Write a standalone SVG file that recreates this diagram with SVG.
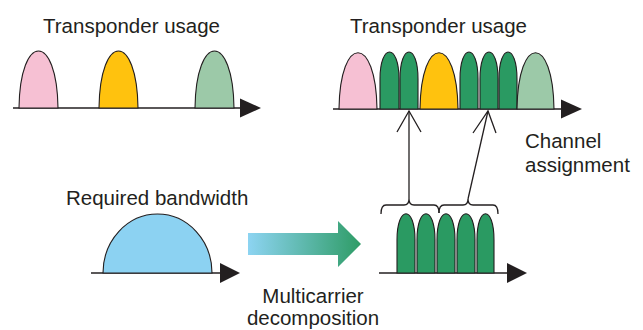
<svg xmlns="http://www.w3.org/2000/svg" width="643" height="330" viewBox="0 0 643 330">
<style>
text{font-family:"Liberation Sans",Arial,sans-serif;font-size:20.5px;fill:#231f20}
.hump{stroke:#231f20;stroke-width:1.1}
.pink{fill:#f6c0d3}.yellow{fill:#ffc20e}.lgreen{fill:#9cc9a8}.dgreen{fill:#2a9a62}.blue{fill:#8cd2f2}
.axis{stroke:#231f20;stroke-width:1.6;fill:none}
.head{fill:#231f20}
.conn{stroke:#231f20;stroke-width:1.3;fill:none}
</style>
<defs>
<linearGradient id="grad" x1="248" y1="0" x2="361" y2="0" gradientUnits="userSpaceOnUse">
<stop offset="0" stop-color="#8dd4f2"/>
<stop offset="1" stop-color="#2e9c66"/>
</linearGradient>
</defs>

<g id="top-left">
<text x="43" y="33">Transponder usage</text>
<line class="axis" x1="13" y1="108" x2="242" y2="108"/>
<polygon class="head" points="240,98.5 261,108 240,117.5"/>
<path class="hump pink" d="M19,108 C20,32 57,32 58,108 Z"/>
<path class="hump yellow" d="M99,108 C100,32 137,32 138,108 Z"/>
<path class="hump lgreen" d="M195,108 C196,32 233,32 234,108 Z"/>
</g>

<g id="top-right">
<text x="350" y="33">Transponder usage</text>
<line class="axis" x1="333" y1="109" x2="563" y2="109"/>
<polygon class="head" points="561,99.5 582,109 561,118.5"/>
<path class="hump pink" d="M339,109 C340,34 376,34 377,109 Z"/>
<path class="hump dgreen" d="M380,109 L380,79 C380,43 399,43 399,79 L399,109 Z"/>
<path class="hump dgreen" d="M400,109 L400,79 C400,43 418,43 418,79 L418,109 Z"/>
<path class="hump yellow" d="M420,109 C421,34 457,34 458,109 Z"/>
<path class="hump dgreen" d="M460,109 L460,79 C460,43 478,43 478,79 L478,109 Z"/>
<path class="hump dgreen" d="M480,109 L480,79 C480,43 498,43 498,79 L498,109 Z"/>
<path class="hump dgreen" d="M499,109 L499,79 C499,43 517,43 517,79 L517,109 Z"/>
<path class="hump lgreen" d="M517,109 C518,34 553,34 554,109 Z"/>
</g>

<g id="channel-label">
<text x="525" y="148">Channel</text>
<text x="525" y="172">assignment</text>
</g>

<g id="required-bandwidth">
<text x="66" y="205">Required bandwidth</text>
<line class="axis" x1="91" y1="273" x2="222" y2="273"/>
<polygon class="head" points="220,263 240,273 220,283"/>
<path class="hump blue" d="M103,273 A54.5,59 0 0 1 212,273 Z"/>
</g>

<g id="decomposition">
<polygon fill="url(#grad)" points="248,233 338,233 338,221 361,244 338,267 338,255 248,255"/>
<text x="313" y="303" text-anchor="middle">Multicarrier</text>
<text x="313" y="325" text-anchor="middle">decomposition</text>
</g>

<g id="subcarriers">
<line class="axis" x1="379" y1="273" x2="509" y2="273"/>
<polygon class="head" points="507,263 527,273 507,283"/>
<path class="hump dgreen" d="M397,273 L397,240 C397,205 415,205 415,240 L415,273 Z"/>
<path class="hump dgreen" d="M417,273 L417,240 C417,205 435,205 435,240 L435,273 Z"/>
<path class="hump dgreen" d="M437,273 L437,240 C437,205 455,205 455,240 L455,273 Z"/>
<path class="hump dgreen" d="M457,273 L457,240 C457,205 475,205 475,240 L475,273 Z"/>
<path class="hump dgreen" d="M477,273 L477,240 C477,205 494,205 494,240 L494,273 Z"/>
</g>

<g id="connectors">
<path class="conn" d="M381,214 Q381,205 386,205 L404,205 Q409,205 409,199 Q409,205 414,205 L434,205 Q439,205 439,213"/>
<path class="conn" d="M439,213 Q439,205 444,205 L463,205 Q468,205 468,199 Q468,205 473,205 L493,205 Q498,205 498,214"/>
<line class="conn" x1="409" y1="199" x2="409" y2="111"/>
<polyline class="conn" points="397,132 409,111 421,132"/>
<line class="conn" x1="468" y1="199" x2="488" y2="111"/>
<polyline class="conn" points="473,133 488,111 496,133"/>
</g>
</svg>
